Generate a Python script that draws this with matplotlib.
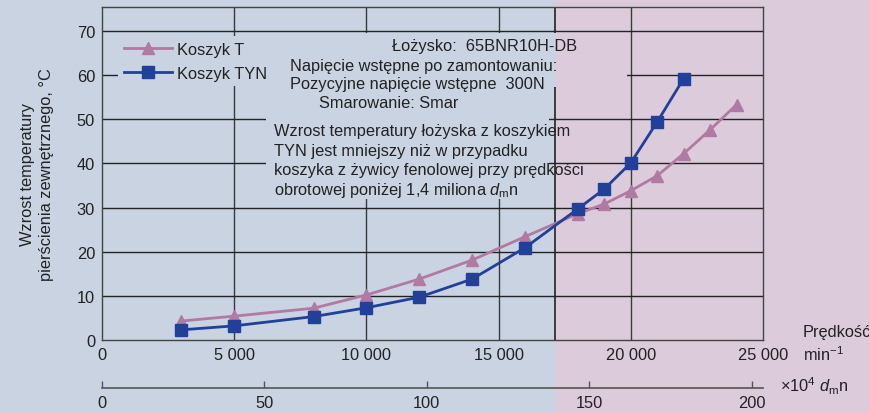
import matplotlib.pyplot as plt
from matplotlib.patches import Rectangle

plt.rcParams['font.family'] = ['Liberation Sans', 'DejaVu Sans']
plt.rcParams['mathtext.fontset'] = 'custom'
plt.rcParams['mathtext.rm'] = 'Liberation Sans'
plt.rcParams['mathtext.it'] = 'Liberation Sans:italic'

# predkosc obrotowa, min-1
speed_t = [3000, 5000, 8000, 10000, 12000, 14000, 16000, 18000, 19000, 20000, 21000, 22000, 23000, 24000]
temp_t = [4.3, 5.4, 7.2, 10.2, 13.8, 18.1, 23.4, 28.6, 30.8, 33.8, 37.2, 42.2, 47.6, 53.3]
speed_tyn = [3000, 5000, 8000, 10000, 12000, 14000, 16000, 18000, 19000, 20000, 21000, 22000]
temp_tyn = [2.3, 3.2, 5.3, 7.3, 9.7, 13.8, 20.9, 29.7, 34.2, 40.1, 49.4, 59.2]

x_ticks = [0, 5000, 10000, 15000, 20000, 25000]
x_labels = ['0', '5 000', '10 000', '15 000', '20 000', '25 000']
y_ticks = [0, 10, 20, 30, 40, 50, 60, 70]
dmn_ticks = [0, 50, 100, 150, 200]
limit_speed = 17150

bg_blue = '#c9d3e1'
bg_pink = '#dccbdb'
col_t = '#b07aa2'
col_tyn = '#21409a'
txt = '#222222'
fs = 11.8

W, H = 870, 414
def fx(px):
    return px / W
def fy(py):
    return 1 - py / H

fig = plt.figure(figsize=(8.7, 4.14), dpi=100)
fig.patch.set_facecolor(bg_blue)

ax = fig.add_axes([fx(102), fy(341), 661/W, 333/H])
ax.set_facecolor('none')
ax.set_xlim(0, 25000)
ax.set_ylim(0, 75.4)

# pink region from limit speed to right edge of figure
x0 = ax.transData.transform((limit_speed, 0))[0] / fig.dpi / 8.7
fig.patches.append(Rectangle((x0, 0), 1 - x0, 1, transform=fig.transFigure,
                             facecolor=bg_pink, edgecolor='none', zorder=-10))

for v in [5000, 10000, 15000, 20000]:
    ax.axvline(v, color='#3a3a3a', lw=1, zorder=1)
for v in y_ticks[1:]:
    ax.axhline(v, color=txt, lw=1, zorder=1)
ax.axvline(limit_speed, color=txt, lw=1.2, zorder=2.5)

# masks behind legend and notes
def mask(x1, y1, x2, y2, z, c=bg_blue):
    ax.add_patch(Rectangle((fx(x1), fy(y2)), (x2 - x1) / W, (y2 - y1) / H,
                           transform=fig.transFigure, facecolor=c,
                           edgecolor='none', zorder=z))
mask(118, 37, 270, 87, 3)
mask(266, 34, 556, 88, 3)
mask(555, 34, 627, 88, 3, bg_pink)
mask(266, 88, 552, 115, 2)
mask(266, 115, 549, 200, 2)

ax.plot(speed_t, temp_t, color=col_t, lw=2, marker='^', ms=8.5, label='Koszyk T', zorder=5)
ax.plot(speed_tyn, temp_tyn, color=col_tyn, lw=2, marker='s', ms=8.5, label='Koszyk TYN', zorder=6)

ax.set_xticks(x_ticks)
ax.set_xticklabels(x_labels)
ax.set_yticks(y_ticks)
ax.tick_params(length=0, labelsize=fs, colors=txt, pad=5)
for s in ax.spines.values():
    s.set_color('#444444')
    s.set_linewidth(1)

leg = ax.legend(loc='upper left', bbox_to_anchor=(0.026, 0.909), fontsize=fs,
                handlelength=2.9, handletextpad=0.35, labelspacing=0.55,
                frameon=False, borderpad=0.3, borderaxespad=0)
leg.set_zorder(4)
for t in leg.get_texts():
    t.set_color(txt)

tx = dict(transform=fig.transFigure, fontsize=fs, color=txt, zorder=4)
ax.text(fx(485), fy(47), 'Łożysko:  65BNR10H-DB', ha='center', va='center', **tx)
ax.text(fx(424), fy(66), 'Napięcie wstępne po zamontowaniu:', ha='center', va='center', **tx)
ax.text(fx(417), fy(85), 'Pozycyjne napięcie wstępne  300N', ha='center', va='center', **tx)
ax.text(fx(389), fy(104), 'Smarowanie: Smar', ha='center', va='center', **tx)
note_lines = ['Wzrost temperatury łożyska z koszykiem',
              'TYN jest mniejszy niż w przypadku',
              'koszyka z żywicy fenolowej przy prędkości',
              'obrotowej poniżej 1,4 miliona $d_\\mathrm{m}$n']
for py, line in zip([136, 156, 175, 195], note_lines):
    ax.text(fx(274), fy(py), line, ha='left', va='baseline', **tx)

fig.text(fx(37), fy(175), 'Wzrost temperatury\npierścienia zewnętrznego, °C',
         rotation=90, ha='center', va='center', fontsize=fs, color=txt,
         linespacing=1.3)
fig.text(fx(803), fy(333), 'Prędkość', ha='left', va='center', fontsize=fs, color=txt)
fig.text(fx(803), fy(355), 'min$^{-1}$', ha='left', va='center', fontsize=fs, color=txt)
fig.text(fx(780), fy(386), '×10$^4$ $d_\\mathrm{m}$n', ha='left', va='center', fontsize=fs, color=txt)

# second scale: dmn x 10^4
ax2 = fig.add_axes([fx(102), fy(389), 661/W, 0.001])
ax2.set_facecolor('none')
ax2.set_xlim(0, 25000 * 81.4 / 1e4)
ax2.set_ylim(0, 1)
ax2.set_yticks([])
for k in ['top', 'left', 'right']:
    ax2.spines[k].set_visible(False)
ax2.spines['bottom'].set_color('#555555')
ax2.spines['bottom'].set_linewidth(1.2)
ax2.set_xticks(dmn_ticks)
ax2.tick_params(axis='x', direction='in', length=5, width=1, colors='#555555',
                labelcolor=txt, labelsize=fs, pad=5)

fig.savefig('out.png', dpi=100, facecolor=fig.get_facecolor())
